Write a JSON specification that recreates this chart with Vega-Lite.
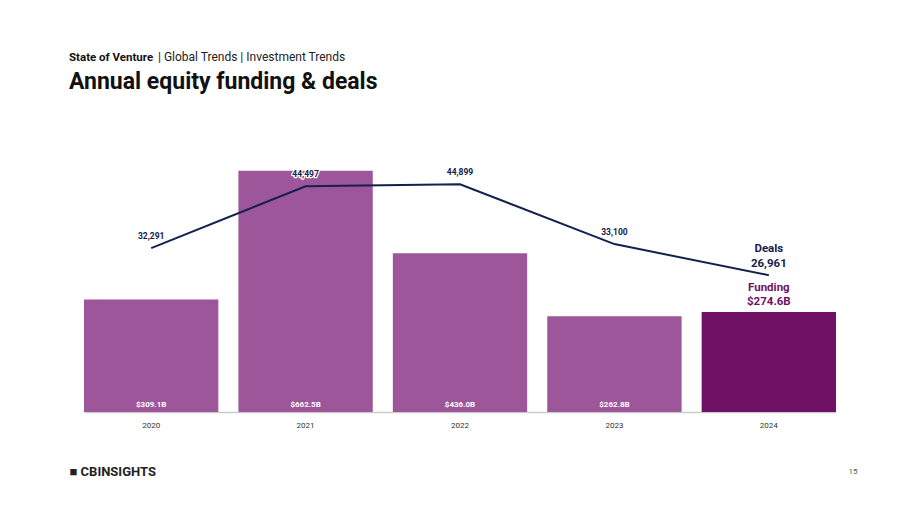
{
  "$schema": "https://vega.github.io/schema/vega-lite/v6.json",
  "background": "white",
  "padding": {"left": 69, "top": 50, "right": 10, "bottom": 10},
  "autosize": {"type": "pad"},
  "config": {"view": {"stroke": null}, "font": "Roboto", "concat": {"spacing": 0}},
  "datasets": {
    "venture": [
      {"year": "2020", "funding": 309.1, "deals": 32291, "funding_label": "$309.1B", "deals_label": "32,291", "latest": false},
      {"year": "2021", "funding": 662.5, "deals": 44497, "funding_label": "$662.5B", "deals_label": "44,497", "latest": false},
      {"year": "2022", "funding": 436.0, "deals": 44899, "funding_label": "$436.0B", "deals_label": "44,899", "latest": false},
      {"year": "2023", "funding": 262.8, "deals": 33100, "funding_label": "$262.8B", "deals_label": "33,100", "latest": false},
      {"year": "2024", "funding": 274.6, "deals": 26961, "funding_label": "Funding\n$274.6B", "deals_label": "Deals\n26,961", "latest": true}
    ]
  },
  "title": {"text": "State of Venture", "anchor": "start", "frame": "group", "fontSize": 11.5, "fontWeight": "bold", "color": "#111111", "offset": 0, "dx": -15, "dy": 13},
  "vconcat": [
    {
      "title": {"text": "|  Global Trends  |  Investment Trends", "anchor": "start", "frame": "group", "fontSize": 12, "fontWeight": "normal", "color": "#222222", "dx": 74, "offset": 7.5},
      "vconcat": [
        {
          "width": 752,
          "height": 281,
          "title": {"text": "Annual equity funding & deals", "anchor": "start", "frame": "group", "fontSize": 23, "fontWeight": "bold", "color": "#111111", "dx": -15, "offset": 37},
          "data": {"name": "venture"},
          "encoding": {
            "x": {
              "field": "year", "type": "ordinal",
              "scale": {"paddingInner": 0.13, "paddingOuter": 0},
              "axis": {
                "title": "■ CBINSIGHTS", "titleAnchor": "start", "titleX": -15, "titleY": 63, "titleAlign": "left", "titleBaseline": "alphabetic",
                "titleFontSize": 13, "titleFontWeight": "bold", "titleColor": "#222222", "titleFont": "Roboto",
                "labelAngle": 0, "labelFontSize": 8, "labelColor": "#333333", "labelPadding": 9,
                "ticks": false, "domainColor": "#cccccc", "domainWidth": 1.5
              }
            }
          },
          "layer": [
            {
              "encoding": {
                "y": {"field": "funding", "type": "quantitative", "scale": {"domain": [0, 772]}, "axis": null}
              },
              "layer": [
                {
                  "mark": {"type": "bar"},
                  "encoding": {
                    "color": {"condition": {"test": "datum.latest", "value": "#701166"}, "value": "#9c5699"}
                  }
                },
                {
                  "transform": [{"filter": "!datum.latest"}],
                  "mark": {"type": "text", "baseline": "alphabetic", "dy": -5, "fontSize": 8, "fontWeight": "bold", "color": "white"},
                  "encoding": {"y": {"datum": 0}, "text": {"field": "funding_label"}}
                },
                {
                  "transform": [{"filter": "datum.latest"}],
                  "mark": {"type": "text", "baseline": "alphabetic", "dy": -21, "fontSize": 11.5, "fontWeight": "bold", "color": "#701166", "lineBreak": "\n", "lineHeight": 14},
                  "encoding": {"text": {"field": "funding_label"}}
                }
              ]
            },
            {
              "encoding": {
                "y": {
                  "field": "deals", "type": "quantitative", "scale": {"domain": [0, 55391]},
                  "axis": {"orient": "right", "title": "15", "labels": false, "ticks": false, "domain": false, "grid": false,
                    "titleAngle": 0, "titleX": 12, "titleY": 342, "titleAlign": "left", "titleBaseline": "alphabetic",
                    "titleFontSize": 8, "titleFontWeight": "normal", "titleColor": "#555555"}
                }
              },
              "layer": [
                {
                  "mark": {"type": "line", "color": "#14214f", "strokeWidth": 2}
                },
                {
                  "transform": [{"filter": "!datum.latest"}],
                  "mark": {"type": "text", "baseline": "bottom", "dy": -7, "fontSize": 8.5, "fontWeight": "bold", "stroke": "white", "strokeWidth": 2.5, "strokeJoin": "round", "color": "white"},
                  "encoding": {"text": {"field": "deals_label"}}
                },
                {
                  "transform": [{"filter": "!datum.latest"}],
                  "mark": {"type": "text", "baseline": "bottom", "dy": -7, "fontSize": 8.5, "fontWeight": "bold", "color": "#14214f"},
                  "encoding": {"text": {"field": "deals_label"}}
                },
                {
                  "transform": [{"filter": "datum.latest"}],
                  "mark": {"type": "text", "baseline": "alphabetic", "dy": -23, "fontSize": 11.5, "fontWeight": "bold", "color": "#14214f", "lineBreak": "\n", "lineHeight": 15},
                  "encoding": {"text": {"field": "deals_label"}}
                }
              ]
            }
          ],
          "resolve": {"scale": {"y": "independent"}}
        }
      ]
    }
  ]
}
